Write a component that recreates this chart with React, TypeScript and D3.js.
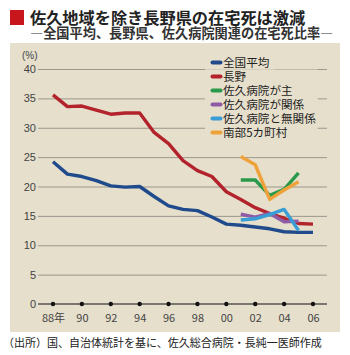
import React, { useEffect, useRef } from "react";
import * as d3 from "d3";

// years on the x axis
const years = [
  1988, 1989, 1990, 1991, 1992, 1993, 1994, 1995, 1996, 1997, 1998, 1999,
  2000, 2001, 2002, 2003, 2004, 2005, 2006,
];
const sakuYears = [2001, 2002, 2003, 2004, 2005];
const yearTicks = [1988, 1990, 1992, 1994, 1996, 1998, 2000, 2002, 2004, 2006];
const valueTicks = [0, 5, 10, 15, 20, 25, 30, 35, 40];

// 在宅死比率 (%)
const national = [
  24.2, 22.1, 21.7, 21.0, 20.1, 19.9, 20.0, 18.3, 16.7, 16.1, 15.9, 14.8,
  13.6, 13.4, 13.1, 12.8, 12.3, 12.2, 12.2,
];
const nagano = [
  35.6, 33.6, 33.7, 33.0, 32.3, 32.5, 32.5, 29.2, 27.3, 24.4, 22.7, 21.7,
  19.1, 17.8, 16.4, 15.4, 14.6, 13.7, 13.6,
];
const sakuMain = [21.1, 21.1, 18.5, 19.5, 22.3];
const sakuRelated = [15.3, 14.8, 15.4, 14.0, 14.1];
const sakuUnrelated = [14.3, 14.5, 15.2, 16.1, 12.5];
const nanbu = [25.1, 23.7, 17.8, 19.4, 20.8];

const seriesNames = [
  "全国平均",
  "長野",
  "佐久病院が主",
  "佐久病院が関係",
  "佐久病院と無関係",
  "南部5カ町村",
];
const seriesColors = [
  "#1f4a8c",
  "#b3232b",
  "#2a9a4a",
  "#8f5aa6",
  "#3a9ed6",
  "#f0a23a",
];

const JP = "'Noto Sans CJK JP', sans-serif";
const NUM = "'Liberation Sans', Arial, sans-serif";

function createChart(el: SVGSVGElement) {
  const svg = d3.select(el);
  svg.selectAll("*").remove();

  const x = d3.scaleLinear().domain([1988, 2006]).range([53, 313]);
  const y = d3.scaleLinear().domain([0, 40]).range([304, 69]);
  const gridLeft = 38,
    gridRight = 327;

  // title
  svg
    .append("rect")
    .attr("x", 10)
    .attr("y", 10)
    .attr("width", 14)
    .attr("height", 15)
    .attr("fill", "#c8161d");
  svg
    .append("text")
    .attr("x", 30)
    .attr("y", 24)
    .attr("font-family", JP)
    .attr("font-weight", "bold")
    .attr("font-size", 16.2)
    .attr("fill", "#222")
    .text("佐久地域を除き長野県の在宅死は激減");
  svg
    .append("text")
    .attr("x", 30)
    .attr("y", 37.5)
    .attr("font-family", JP)
    .attr("font-weight", "bold")
    .attr("font-size", 13.2)
    .attr("fill", "#333")
    .text("―全国平均、長野県、佐久病院関連の在宅死比率―");

  // panel
  svg
    .append("rect")
    .attr("x", 10)
    .attr("y", 43)
    .attr("width", 330)
    .attr("height", 289)
    .attr("fill", "#e6dfcc");

  // y axis + gridlines
  const yAxis = svg
    .append("g")
    .attr("transform", `translate(${gridLeft},0)`)
    .call(
      d3
        .axisLeft(y)
        .tickValues(valueTicks)
        .tickSize(-(gridRight - gridLeft))
        .tickPadding(2)
        .tickFormat(d3.format("d"))
    );
  yAxis.select(".domain").remove();
  yAxis
    .selectAll(".tick line")
    .attr("stroke", "#9b978c")
    .attr("stroke-width", 1)
    .filter((d: any) => d === 0)
    .remove();
  yAxis
    .selectAll(".tick text")
    .attr("font-family", NUM)
    .attr("font-size", 11)
    .attr("fill", "#444");

  svg
    .append("text")
    .attr("x", 22)
    .attr("y", 59)
    .attr("font-family", NUM)
    .attr("font-size", 10)
    .attr("fill", "#444")
    .text("(%)");

  // x axis
  svg
    .append("line")
    .attr("x1", gridLeft)
    .attr("x2", gridRight)
    .attr("y1", y(0))
    .attr("y2", y(0))
    .attr("stroke", "#111")
    .attr("stroke-width", 1.2);
  const xAxis = svg
    .append("g")
    .attr("transform", `translate(0,${y(0)})`)
    .call(
      d3
        .axisBottom(x)
        .tickValues(yearTicks)
        .tickSize(0)
        .tickPadding(10)
        .tickFormat((d: any) => {
          const s = String(d).slice(2);
          return d === 1988 ? s + "年" : s;
        })
    );
  xAxis.select(".domain").remove();
  xAxis
    .selectAll(".tick text")
    .attr("font-family", JP)
    .attr("font-size", 11)
    .attr("fill", "#444");
  svg
    .selectAll(".year-dot")
    .data(yearTicks)
    .enter()
    .append("circle")
    .attr("class", "year-dot")
    .attr("cx", (d) => x(d))
    .attr("cy", y(0))
    .attr("r", 2.2)
    .attr("fill", "#111");

  // legend (drawn before lines, with background hiding gridlines)
  const legendX = 211,
    legendY0 = 62.5,
    legendStep = 14;
  const legendBg = svg.append("g");
  const legend = svg
    .append("g")
    .selectAll("g")
    .data(seriesNames)
    .enter()
    .append("g")
    .attr("transform", (d, i) => `translate(${legendX},${legendY0 + i * legendStep})`);
  legend
    .append("line")
    .attr("x1", 1.5)
    .attr("x2", 9.5)
    .attr("stroke", (d, i) => seriesColors[i])
    .attr("stroke-width", 4)
    .attr("stroke-linecap", "round");
  const legendText = legend
    .append("text")
    .attr("x", 12)
    .attr("dy", "0.36em")
    .attr("font-family", JP)
    .attr("font-size", 11.6)
    .attr("fill", "#222")
    .text((d) => d);
  const widths = legendText.nodes().map((n) => (n as SVGTextElement).getComputedTextLength());
  const maxW = d3.max(widths.slice(1)) || 0;
  legendBg
    .append("rect")
    .attr("x", legendX - 6)
    .attr("y", legendY0 - 7)
    .attr("width", widths[0] + 24)
    .attr("height", 14)
    .attr("fill", "#e6dfcc");
  legendBg
    .append("rect")
    .attr("x", legendX - 6)
    .attr("y", legendY0 + 7)
    .attr("width", maxW + 20)
    .attr("height", legendStep * 5)
    .attr("fill", "#e6dfcc");

  // lines
  const line = d3
    .line<[number, number]>()
    .x((d) => x(d[0]))
    .y((d) => y(d[1]));
  const series: [number, number][][] = [
    years.map((yr, i) => [yr, national[i]]),
    years.map((yr, i) => [yr, nagano[i]]),
    sakuYears.map((yr, i) => [yr, sakuMain[i]]),
    sakuYears.map((yr, i) => [yr, sakuRelated[i]]),
    sakuYears.map((yr, i) => [yr, sakuUnrelated[i]]),
    sakuYears.map((yr, i) => [yr, nanbu[i]]),
  ];
  svg
    .append("g")
    .selectAll("path")
    .data(series)
    .enter()
    .append("path")
    .attr("d", (d) => line(d))
    .attr("fill", "none")
    .attr("stroke", (d, i) => seriesColors[i])
    .attr("stroke-width", 3.4)
    .attr("stroke-linejoin", "round");

  // source
  svg
    .append("text")
    .attr("x", 3)
    .attr("y", 347)
    .attr("font-family", JP)
    .attr("font-size", 11)
    .attr("fill", "#222")
    .text("（出所）国、自治体統計を基に、佐久総合病院・長純一医師作成");
}

export default function App() {
  const ref = useRef<SVGSVGElement>(null);
  useEffect(() => {
    if (ref.current) createChart(ref.current);
  }, []);
  return (
    <svg
      ref={ref}
      width={350}
      height={355}
      style={{ position: "absolute", left: 0, top: 0, background: "#fff" }}
    />
  );
}
